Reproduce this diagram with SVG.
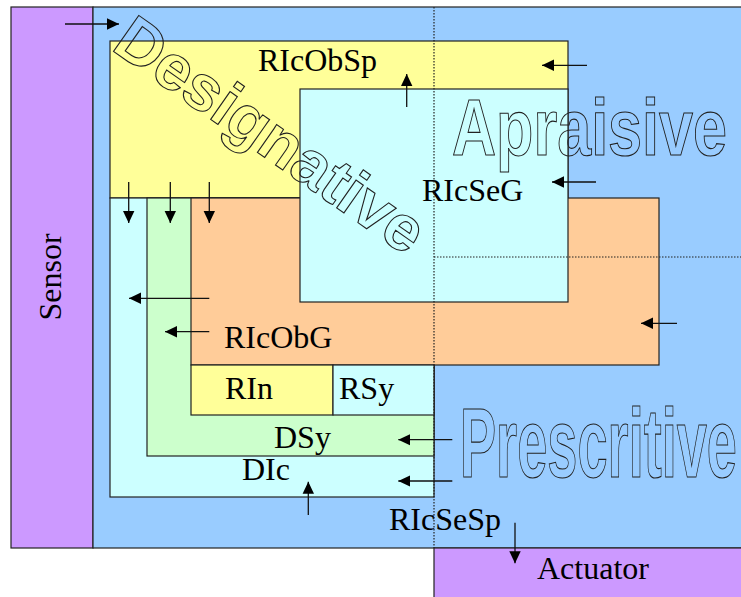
<svg xmlns="http://www.w3.org/2000/svg" width="741" height="597" viewBox="0 0 741 597">
<style>
.box{stroke:#222;stroke-width:1.2}
.lbl{font-family:"Liberation Serif","Times New Roman",serif;font-size:32px;fill:#000}
.big{font-family:"Liberation Sans",Arial,sans-serif;font-weight:bold;fill:none;stroke:#222;stroke-width:1.1}
.dot{stroke:#222;stroke-width:1.2;stroke-dasharray:1.5 1.5;fill:none}
.arr{stroke:#111;stroke-width:1.3;fill:none;marker-end:url(#ah)}
</style>
<defs>
<marker id="ah" markerUnits="userSpaceOnUse" markerWidth="12" markerHeight="12" refX="12" refY="6" orient="auto">
<path d="M0,0.3 L12,6 L0,11.7 z" fill="#000"/>
</marker>
</defs>
<rect width="741" height="597" fill="#fff"/>
<g id="sensor">
<rect class="box" x="11" y="7" width="82" height="541" fill="#CC99FF"/>
<text class="lbl" transform="translate(61,277) rotate(-90)" text-anchor="middle">Sensor</text>
</g>
<g id="system">
<rect class="box" x="93" y="7" width="652" height="541" fill="#99CCFF"/>
</g>
<g id="actuator">
<rect class="box" x="434" y="548" width="310" height="52" fill="#CC99FF"/>
<text class="lbl" x="537" y="579">Actuator</text>
</g>
<g id="RIcObSp">
<rect class="box" x="110" y="41" width="458" height="157" fill="#FFFF99"/>
<text class="lbl" x="258" y="71">RIcObSp</text>
</g>
<g id="DIc">
<rect class="box" x="110" y="198" width="324" height="299" fill="#CCFFFF"/>
<text class="lbl" x="242" y="480">DIc</text>
</g>
<g id="DSy">
<rect class="box" x="147" y="198" width="287" height="258" fill="#CCFFCC"/>
<text class="lbl" x="274" y="448">DSy</text>
</g>
<g id="RIcObG">
<rect class="box" x="191" y="198" width="468" height="167" fill="#FFCC99"/>
<text class="lbl" x="224" y="348">RIcObG</text>
</g>
<g id="RIn">
<rect class="box" x="191" y="365" width="142" height="50" fill="#FFFF99"/>
<text class="lbl" x="225" y="399">RIn</text>
</g>
<g id="RSy">
<rect class="box" x="333" y="365" width="101" height="50" fill="#CCFFFF"/>
<text class="lbl" x="339" y="399">RSy</text>
</g>
<g id="RIcSeG">
<rect class="box" x="300" y="89" width="268" height="213" fill="#CCFFFF"/>
<text class="lbl" x="422" y="201">RIcSeG</text>
</g>
<g id="dividers">
<line class="dot" x1="434" y1="7" x2="434" y2="548"/>
<line class="dot" x1="434" y1="257" x2="741" y2="257"/>
</g>
<g id="RIcSeSp">
<text class="lbl" x="389" y="530">RIcSeSp</text>
</g>
<g id="Designative">
<text class="big" font-size="64" transform="translate(110,49) rotate(35)" textLength="362" lengthAdjust="spacingAndGlyphs">Designative</text>
</g>
<g id="Apraisive">
<text class="big" font-size="79" x="452" y="155" textLength="275" lengthAdjust="spacingAndGlyphs">Apraisive</text>
</g>
<g id="Prescritive">
<text class="big" font-size="99" x="460" y="477" textLength="277" lengthAdjust="spacingAndGlyphs">Prescritive</text>
</g>
<g id="connectors">
<line class="arr" x1="65" y1="24" x2="119" y2="24"/>
<line class="arr" x1="128.7" y1="182" x2="128.7" y2="223"/>
<line class="arr" x1="170.3" y1="182" x2="170.3" y2="223"/>
<line class="arr" x1="209.3" y1="182" x2="209.3" y2="223"/>
<line class="arr" x1="406.7" y1="107" x2="406.7" y2="74"/>
<line class="arr" x1="587" y1="65.3" x2="542" y2="65.3"/>
<line class="arr" x1="596" y1="182" x2="552" y2="182"/>
<line class="arr" x1="677" y1="323.3" x2="641" y2="323.3"/>
<line class="arr" x1="209.3" y1="298.3" x2="129" y2="298.3"/>
<line class="arr" x1="209.3" y1="331.7" x2="165" y2="331.7"/>
<line class="arr" x1="452.3" y1="439.7" x2="398.3" y2="439.7"/>
<line class="arr" x1="452.3" y1="481" x2="398.3" y2="481"/>
<line class="arr" x1="308.3" y1="515" x2="308.3" y2="481.7"/>
<line class="arr" x1="515" y1="522.7" x2="515" y2="563.3"/>
</g>
</svg>
